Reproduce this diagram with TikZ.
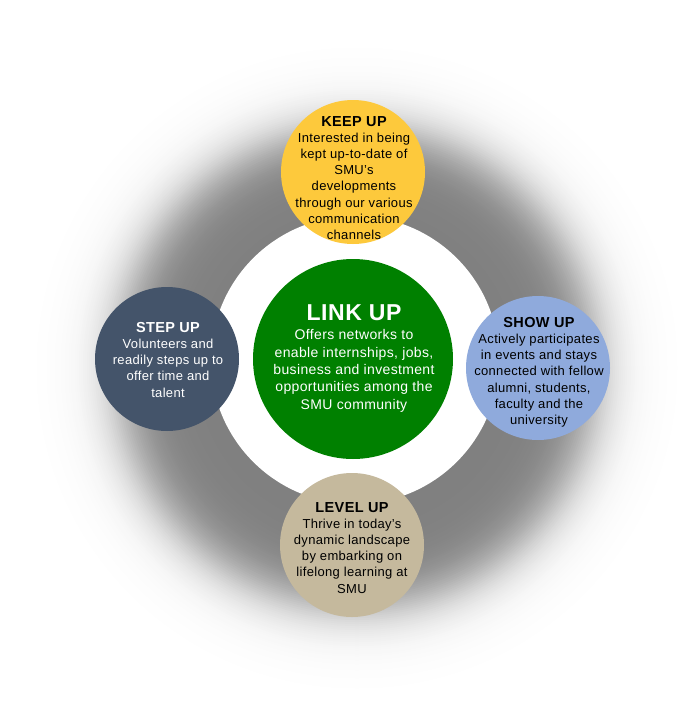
\documentclass[tikz,border=0pt]{standalone}
\usepackage{fontspec}
\setmainfont[LetterSpace=2.5]{Liberation Sans}
\definecolor{keepc}{HTML}{FDC93C}
\definecolor{stepc}{HTML}{44546A}
\definecolor{showc}{HTML}{8FAADC}
\definecolor{levelc}{HTML}{C5B99D}
\definecolor{linkc}{HTML}{008000}
\begin{document}
\begin{tikzpicture}[x=1pt,y=-1pt,
  bubble/.style={circle,inner sep=0pt,minimum size=144pt},
  txt/.style={inner sep=0pt,align=center,anchor=north,font=\fontsize{13}{16.2}\selectfont}]
\fill[white] (0,0) rectangle (682,720);
\useasboundingbox (0,0) rectangle (682,720);
\coordinate (sc) at (357,368);
\foreach \r in {320,318,...,146}{
  \pgfmathsetmacro\d{50/(1+exp(-0.063*(240-\r)))}
  \fill[black!\d!white] (sc) circle[radius=\r pt];
}
\node[circle,inner sep=0pt,fill=white,minimum size=288pt] (ring) at (355,360) {};
\node[bubble,fill=linkc,minimum size=200pt] (link) at (353,359) {};
\node[bubble,fill=keepc] (keep) at (353,172) {};
\node[bubble,fill=stepc] (step1) at (167,359) {};
\node[bubble,fill=showc] (show) at (538,368) {};
\node[bubble,fill=levelc] (level) at (352,545) {};

\node[txt,text=black] (keept) at (354,116) {{\fontsize{14.5}{16}\selectfont\bfseries KEEP UP}\\Interested in being\\kept up-to-date of\\SMU’s\\developments\\through our various\\communication\\channels};
\node[txt,text=white] (stept) at (168,322) {{\fontsize{14.5}{16}\selectfont\bfseries STEP UP}\\Volunteers and\\readily steps up to\\offer time and\\talent};
\node[txt,text=black] (showt) at (539,317) {{\fontsize{14.5}{16}\selectfont\bfseries SHOW UP}\\Actively participates\\in events and stays\\connected with fellow\\alumni, students,\\faculty and the\\university};
\node[txt,text=black] (levelt) at (352,502) {{\fontsize{14.5}{16}\selectfont\bfseries LEVEL UP}\\Thrive in today’s\\dynamic landscape\\by embarking on\\lifelong learning at\\SMU};
\node[txt,text=white,font=\fontsize{14}{17.3}\selectfont] (linkt) at (354,304) {{\fontsize{23}{17}\selectfont\bfseries LINK UP}\\[2.5pt]Offers networks to\\enable internships, jobs,\\business and investment\\opportunities among the\\SMU community};
\end{tikzpicture}
\end{document}
